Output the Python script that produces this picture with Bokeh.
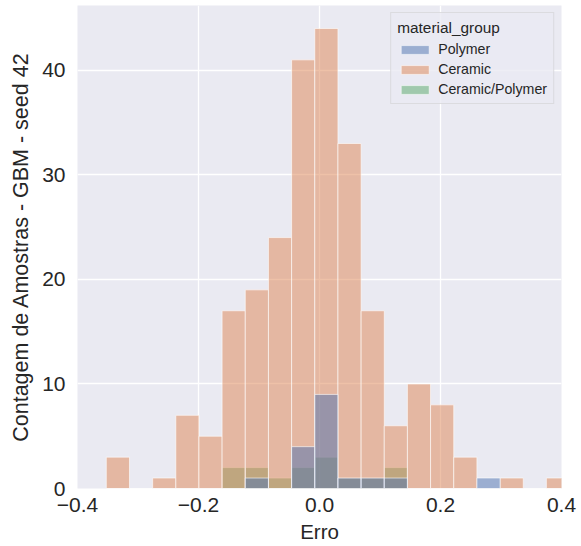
from bokeh.plotting import figure
from bokeh.models import Range1d, Legend, LegendItem, ColumnDataSource, FixedTicker
from bokeh.embed import file_html
from bokeh.resources import INLINE

# Bin left edges (shared bins of the histogram)
bin_left = [-0.3524, -0.3141, -0.2758, -0.2375, -0.1993, -0.1610, -0.1227, -0.0844,
            -0.0461, -0.0078, 0.0305, 0.0688, 0.1070, 0.1453, 0.1836, 0.2219,
            0.2602, 0.2985, 0.3368, 0.3750]
bin_width = 0.0383

polymer = [0, 0, 0, 0, 0, 0, 1, 0, 4, 9, 1, 1, 1, 0, 0, 0, 1, 0, 0, 0]
ceramic = [3, 0, 1, 7, 5, 17, 19, 24, 41, 44, 33, 17, 6, 10, 8, 3, 0, 1, 0, 1]
ceramic_polymer = [0, 0, 0, 0, 0, 2, 2, 1, 2, 3, 1, 1, 2, 0, 0, 0, 0, 0, 0, 0]

groups = ["Polymer", "Ceramic", "Ceramic/Polymer"]
colors = {"Polymer": "#4c72b0", "Ceramic": "#dd8452", "Ceramic/Polymer": "#55a868"}
counts = {"Polymer": polymer, "Ceramic": ceramic, "Ceramic/Polymer": ceramic_polymer}

x_ticks = [-0.4, -0.2, 0.0, 0.2, 0.4]
x_tick_labels = ["\u22120.4", "\u22120.2", "0.0", "0.2", "0.4"]
y_ticks = [0, 10, 20, 30, 40]

FONT = "Liberation Sans"
TXT = "#262626"

p = figure(width=581, height=546, output_backend="svg", toolbar_location=None,
           x_range=Range1d(-0.4, 0.4), y_range=Range1d(0, 46.2),
           min_border_left=77, min_border_right=20, min_border_top=5, min_border_bottom=58)
p.background_fill_color = "#eaeaf2"
p.border_fill_color = "white"
p.outline_line_color = None

for ax in (p.xaxis[0], p.yaxis[0]):
    ax.axis_line_color = None
    ax.major_tick_line_color = None
    ax.minor_tick_line_color = None
    ax.major_tick_out = 0
    ax.major_tick_in = 0
    ax.major_label_text_font = FONT
    ax.major_label_text_font_size = "21px"
    ax.major_label_text_color = TXT
    ax.axis_label_text_font = FONT
    ax.axis_label_text_color = TXT
    ax.axis_label_text_font_style = "normal"

p.xaxis[0].axis_label_text_font_size = "20.5px"
p.yaxis[0].axis_label_text_font_size = "21.5px"
p.xaxis[0].ticker = FixedTicker(ticks=x_ticks)
p.xaxis[0].major_label_overrides = {t: l for t, l in zip(x_ticks, x_tick_labels)}
p.yaxis[0].ticker = FixedTicker(ticks=y_ticks)
p.xaxis[0].axis_label = "Erro"
p.yaxis[0].axis_label = "Contagem de Amostras - GBM - seed 42"
p.xaxis[0].major_label_standoff = 9
p.xaxis[0].axis_label_standoff = 5
p.yaxis[0].major_label_standoff = 12
p.yaxis[0].axis_label_standoff = 6

p.xgrid.grid_line_color = "white"
p.ygrid.grid_line_color = "white"
p.xgrid.grid_line_width = 1.3
p.ygrid.grid_line_width = 1.3
p.xgrid.ticker = FixedTicker(ticks=x_ticks)
p.ygrid.ticker = FixedTicker(ticks=y_ticks)

renderers = {}
# seaborn draws the last hue level first
for g in reversed(groups):
    src = ColumnDataSource(dict(
        left=bin_left,
        right=[b + bin_width for b in bin_left],
        top=counts[g],
        bottom=[0] * len(bin_left),
    ))
    r = p.quad(left="left", right="right", top="top", bottom="bottom", source=src,
               fill_color=colors[g], fill_alpha=0.5,
               line_color="white", line_alpha=0.6, line_width=1)
    renderers[g] = r

legend = Legend(items=[LegendItem(label=g, renderers=[renderers[g]]) for g in groups],
                location="top_right")
legend.title = "material_group"
legend.title_text_font = FONT
legend.title_text_font_size = "15.4px"
legend.title_text_color = TXT
legend.title_text_font_style = "normal"
legend.label_text_font = FONT
legend.label_text_font_size = "14.2px"
legend.label_text_color = TXT
legend.background_fill_color = "#eaeaf2"
legend.background_fill_alpha = 0.8
legend.border_line_color = "#cccccc"
legend.border_line_width = 1
legend.glyph_width = 35
legend.glyph_height = 11
legend.label_standoff = 6
legend.label_height = 14
legend.spacing = 4
legend.padding = 6
legend.margin = 7
legend.title_standoff = 4
p.add_layout(legend)

open("out.html", "w").write(file_html(p, INLINE))
